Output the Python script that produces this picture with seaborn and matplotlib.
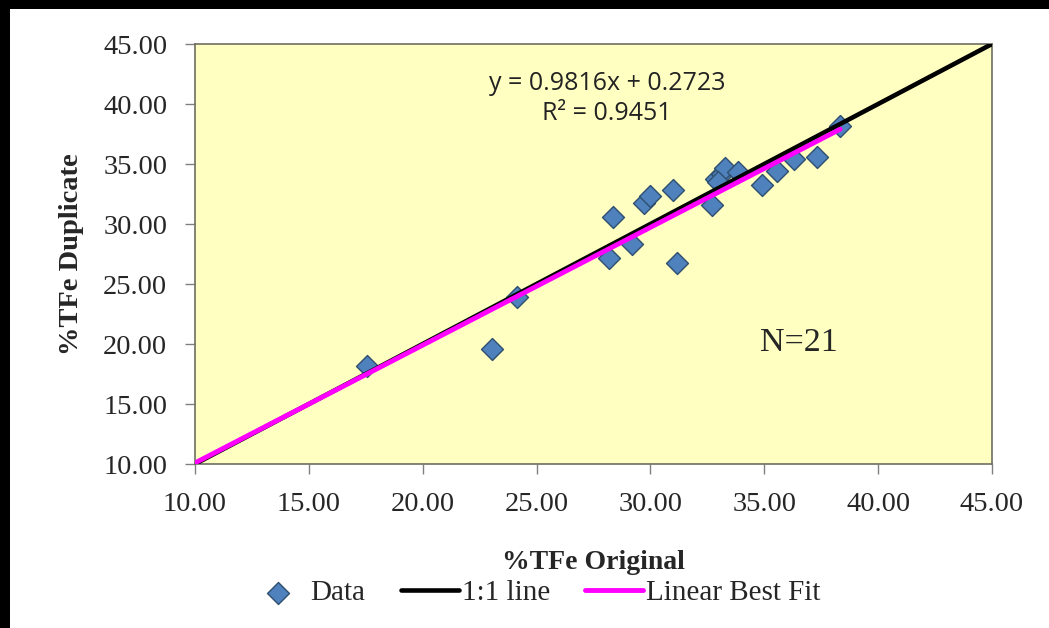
import numpy as np
import pandas as pd
import matplotlib
matplotlib.use("Agg")
import matplotlib.pyplot as plt
import seaborn as sns

# ---- data ----
orig = [17.55, 23.03, 24.14, 28.20, 28.34, 29.20, 29.70, 29.98, 31.00, 31.15,
        32.70, 32.90, 33.15, 33.28, 33.86, 34.90, 35.55, 36.32, 37.30, 38.33, 32.95]
dup = [18.20, 19.62, 23.90, 27.20, 30.60, 28.35, 31.72, 32.35, 32.83, 26.78,
       31.58, 33.78, 34.20, 34.64, 34.36, 33.25, 34.44, 35.39, 35.60, 38.20, 33.50]
one_to_one = [10.0, 45.0]
fit_x = [10.0, 38.33]
fit_slope = 0.9816
fit_intercept = 0.2723
r_squared = 0.9451
ticks = [10, 15, 20, 25, 30, 35, 40, 45]
tick_labels = ["10.00", "15.00", "20.00", "25.00", "30.00", "35.00", "40.00", "45.00"]

df = pd.DataFrame({"orig": orig, "dup": dup})
df_11 = pd.DataFrame({"x": one_to_one, "y": one_to_one})
fx = np.array(fit_x)
df_fit = pd.DataFrame({"x": fx, "y": fit_slope * fx + fit_intercept})

sns.set_style("white")
plt.rcParams["font.family"] = ["Liberation Serif", "DejaVu Serif"]
plt.rcParams["figure.facecolor"] = "white"
plt.rcParams["savefig.facecolor"] = "white"

fig = plt.figure(figsize=(10.49, 6.28), dpi=100)
fig.patch.set_facecolor("white")
fig.patch.set_alpha(1.0)

# background axes (white page with black top/left bands)
bg = fig.add_axes([0, 0, 1, 1], zorder=-10)
bg.set_xlim(0, 1049)
bg.set_ylim(628, 0)
bg.set_facecolor("white")
bg.axhspan(0, 9, color="black", lw=0)
bg.axvspan(0, 10, color="black", lw=0)
bg.set_xticks([])
bg.set_yticks([])
for sp in bg.spines.values():
    sp.set_visible(False)

ax = fig.add_axes([195/1049, 1-464/628, (992-195)/1049, (464-44)/628])
ax.set_facecolor("#FFFFC2")

sns.scatterplot(data=df, x="orig", y="dup", ax=ax, marker="D", s=125,
                color="#4F81BD", edgecolor="#2F4F6F", linewidth=1.0,
                label="Data", zorder=2)
sns.lineplot(data=df_11, x="x", y="y", ax=ax, color="black", linewidth=3.3,
             label="1:1 line", zorder=3)
sns.lineplot(data=df_fit, x="x", y="y", ax=ax, color="#FF00FF", linewidth=3.5,
             label="Linear Best Fit", zorder=4)

ax.set_xlim(10, 45)
ax.set_ylim(10, 45)
ax.set_xticks(ticks)
ax.set_xticklabels(tick_labels)
ax.set_yticks(ticks)
ax.set_yticklabels(tick_labels)
ax.tick_params(axis="both", direction="out", length=7, width=1, color="#808080",
               labelsize=20.5, pad=13, bottom=True, left=True)
ax.tick_params(axis="x", pad=13)
for sp in ax.spines.values():
    sp.set_color("#6E6E60")
    sp.set_linewidth(1.2)

ax.set_xlabel("%TFe Original", fontsize=20, fontweight="bold", labelpad=24)
ax.set_ylabel("%TFe Duplicate", fontsize=20.5, fontweight="bold", labelpad=14)

fig.text(607/1049, 1-83/628, f"y = {fit_slope}x + {fit_intercept}",
         ha="center", va="center",
         fontsize=18, family=["Open Sans", "DejaVu Sans"], color="#222222")
fig.text(607/1049, 1-114/628, f"R² = {r_squared}",
         ha="center", va="center",
         fontsize=18, family=["Open Sans", "DejaVu Sans"], color="#222222")
fig.text(799/1049, 1-343/628, "N=21", ha="center", va="center", fontsize=24.5)

h, l = ax.get_legend_handles_labels()
ax.legend(h, l, loc="center", bbox_to_anchor=(535/1049, 1-593/628),
          bbox_transform=fig.transFigure, ncol=3, frameon=False,
          fontsize=21, handlelength=2.0, columnspacing=1.2, handletextpad=0.1)

fig.savefig("out.png", dpi=100, facecolor="white")
